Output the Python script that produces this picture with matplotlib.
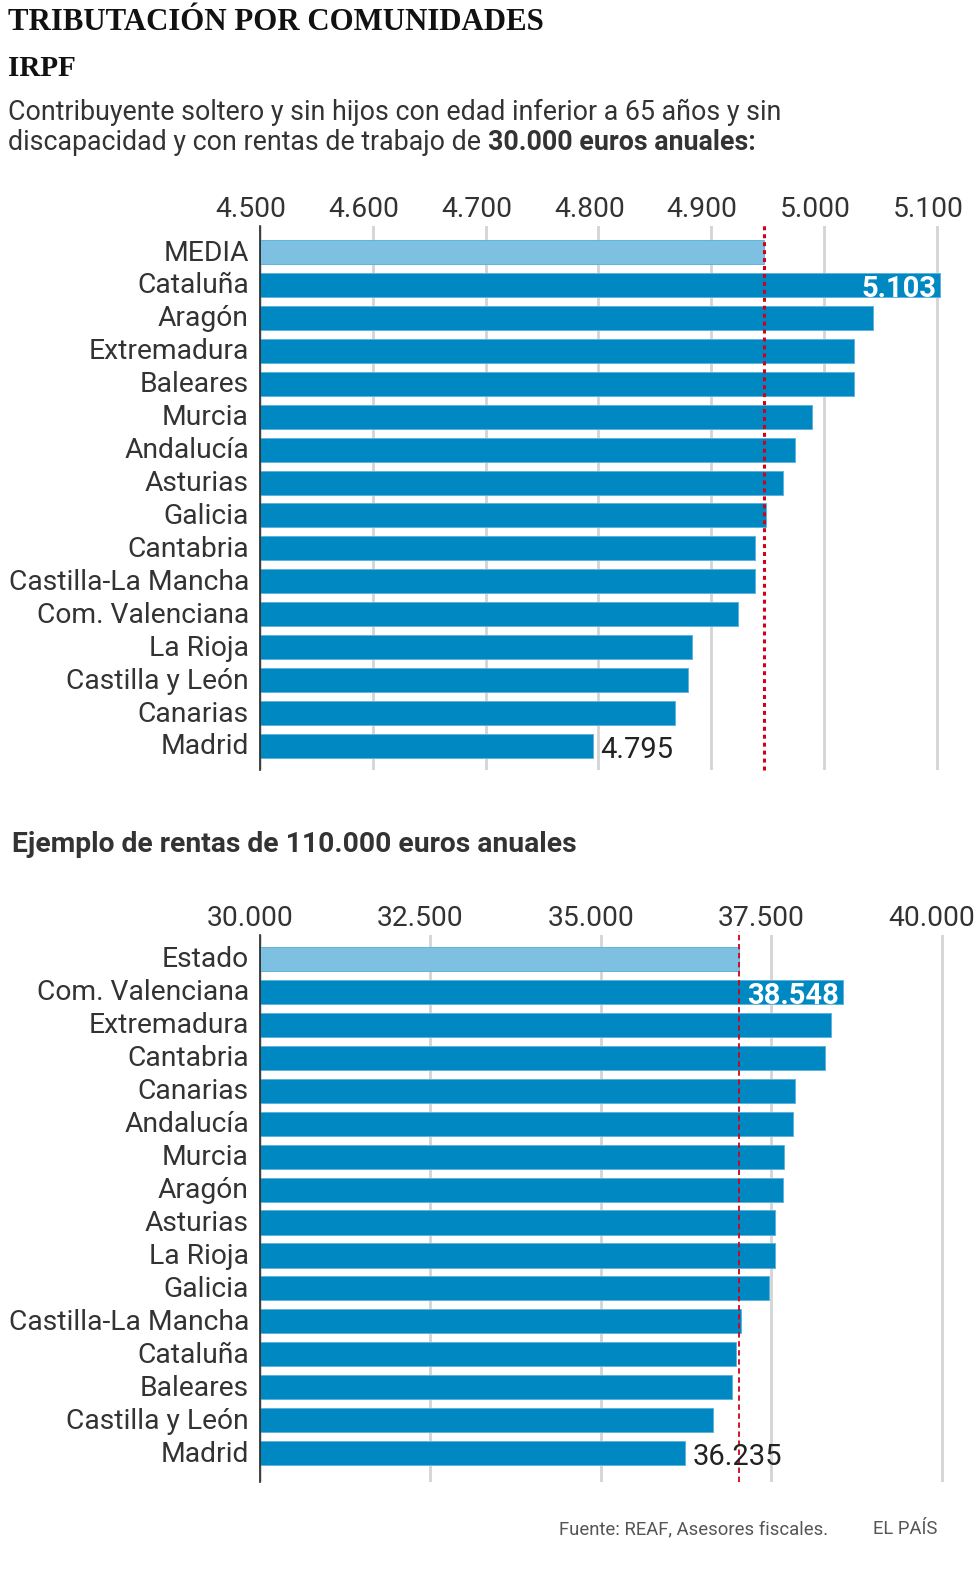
import matplotlib
matplotlib.use("Agg")
import matplotlib.pyplot as plt
from matplotlib.transforms import ScaledTranslation

# ---------------- data ----------------
regions_30k = ["MEDIA", "Cataluña", "Aragón", "Extremadura", "Baleares", "Murcia",
               "Andalucía", "Asturias", "Galicia", "Cantabria", "Castilla-La Mancha",
               "Com. Valenciana", "La Rioja", "Castilla y León", "Canarias", "Madrid"]
values_30k = [4947, 5103, 5043, 5027, 5027, 4989, 4974, 4964, 4949, 4939, 4939,
              4924, 4883, 4879, 4868, 4795]
ticks_30k = [4500, 4600, 4700, 4800, 4900, 5000, 5100]
ticklabels_30k = ["4.500", "4.600", "4.700", "4.800", "4.900", "5.000", "5.100"]

regions_110k = ["Estado", "Com. Valenciana", "Extremadura", "Cantabria", "Canarias",
                "Andalucía", "Murcia", "Aragón", "Asturias", "La Rioja", "Galicia",
                "Castilla-La Mancha", "Cataluña", "Baleares", "Castilla y León", "Madrid"]
values_110k = [37027, 38548, 38371, 38283, 37843, 37818, 37687, 37662, 37555, 37555,
               37462, 37047, 36974, 36915, 36646, 36235]
ticks_110k = [30000, 32500, 35000, 37500, 40000]
ticklabels_110k = ["30.000", "32.500", "35.000", "37.500", "40.000"]

# ---------------- style ----------------
W, H = 980, 1570
DARK = "#0088c2"
LIGHT = "#7dc0e1"
EDGE = "#5fb3dc"
TXT = "#333333"
GRID = "#d4d4d4"
RED = "#d0021b"
SANS = ["Roboto", "DejaVu Sans"]
SERIF = ["Liberation Serif", "DejaVu Serif"]
LABEL_W = "normal"

fig = plt.figure(figsize=(W / 100, H / 100), dpi=100)
fig.patch.set_facecolor("white")


def fx(px):
    return px / W


def fy(py):
    return 1 - py / H


def make_axes(left, right, top, bottom):
    return fig.add_axes([fx(left), fy(bottom), fx(right - left), (bottom - top) / H])


def draw_chart(ax, cats, vals, xmin, xmax, ticks, labels, row_top, row_bot,
               mean_style, label_shift, inside_label, outside_label):
    n = len(cats)
    ypos = list(range(n))
    colors = [LIGHT] + [DARK] * (n - 1)
    ax.barh(ypos, [v - xmin for v in vals], left=xmin, height=0.73,
            color=colors, edgecolor=EDGE, linewidth=0.7, zorder=3)
    ax.set_xlim(xmin, xmax)
    ax.set_ylim(row_bot, row_top)
    ax.set_xticks(ticks)
    ax.set_xticklabels(labels)
    ax.xaxis.tick_top()
    ax.tick_params(axis="x", length=0, pad=2, labelsize=20.3, labelcolor=TXT)
    for lab in ax.get_xticklabels():
        lab.set_fontfamily(SANS)
        lab.set_fontweight(LABEL_W)
        lab.set_transform(lab.get_transform() + ScaledTranslation(label_shift / 100, 0, fig.dpi_scale_trans))
    ax.set_yticks(ypos)
    ax.set_yticklabels(cats)
    ax.tick_params(axis="y", length=0, pad=8, labelsize=20.3, labelcolor=TXT)
    for lab in ax.get_yticklabels():
        lab.set_fontfamily(SANS)
        lab.set_fontweight(LABEL_W)
        lab.set_transform(lab.get_transform() + ScaledTranslation(0, 2 / 100, fig.dpi_scale_trans))
    ax.grid(axis="x", color=GRID, linewidth=2, zorder=0)
    ax.grid(axis="y", visible=False)
    for s in ["top", "right", "bottom"]:
        ax.spines[s].set_visible(False)
    ax.spines["left"].set_color("#222222")
    ax.spines["left"].set_linewidth(1.2)
    ax.spines["left"].set_zorder(5)
    ax.set_facecolor("white")
    # mean line
    ls, lw = mean_style
    ax.plot([vals[0], vals[0]], [row_bot, row_top - 0.12], color=RED, linestyle=ls,
            linewidth=lw, zorder=6, clip_on=False)
    # labels of max / min
    ax.text(vals[1], 1, inside_label, ha="right", va="center_baseline", color="white",
            fontsize=21, fontweight="bold", family=SANS, zorder=7,
            transform=ax.transData + ScaledTranslation(-4 / 100, -1 / 100, fig.dpi_scale_trans))
    ax.text(vals[-1], n - 1, outside_label, ha="left", va="center_baseline", color="#222222",
            fontsize=21, fontweight=LABEL_W, family=SANS, zorder=7,
            transform=ax.transData + ScaledTranslation(7 / 100, -1 / 100, fig.dpi_scale_trans))


# ---- top chart (30.000 euros) ----
ax1 = make_axes(260, 960, 226, 770)
draw_chart(ax1, regions_30k, values_30k, 4500, 4500 + 700 / 1.128, ticks_30k, ticklabels_30k,
           -0.79, 15.73, ((0, (1.3, 1.3)), 2.2), -9, "5.103", "4.795")

# ---- bottom chart (110.000 euros) ----
ax2 = make_axes(260, 960, 935, 1482)
draw_chart(ax2, regions_110k, values_110k, 30000, 30000 + 700 / 0.0682, ticks_110k, ticklabels_110k,
           -0.72, 15.87, ((0, (3, 2)), 1.3), -10, "38.548", "36.235")

# ---------------- texts ----------------
fig.text(fx(8), fy(22), "TRIBUTACIÓN POR COMUNIDADES", family=SERIF, fontweight="bold",
         fontsize=22.2, color="#111111", ha="left", va="center")
fig.text(fx(8), fy(68), "IRPF", family=SERIF, fontweight="bold",
         fontsize=21, color="#111111", ha="left", va="center")
fig.text(fx(8), fy(112), "Contribuyente soltero y sin hijos con edad inferior a 65 años y sin",
         family=SANS, fontweight=LABEL_W, fontsize=19.3, color=TXT, ha="left", va="center")
t1 = fig.text(fx(8), fy(143), "discapacidad y con rentas de trabajo de ",
              family=SANS, fontweight=LABEL_W, fontsize=19.3, color=TXT, ha="left", va="center")
plt.annotate("30.000 euros anuales:", xy=(1, 0), xycoords=t1, ha="left", va="bottom",
             family=SANS, fontweight="bold", fontsize=19.3, color=TXT)

fig.text(fx(12), fy(845), "Ejemplo de rentas de 110.000 euros anuales", family=SANS,
         fontweight="bold", fontsize=20.3, color=TXT, ha="left", va="center")

fig.text(fx(828), fy(1529), "Fuente: REAF, Asesores fiscales.", family=SANS, fontweight=LABEL_W,
         fontsize=13.3, color="#555555", ha="right", va="center")
fig.text(fx(937), fy(1529), "EL PAÍS", family=SANS, fontweight=LABEL_W,
         fontsize=13.3, color="#555555", ha="right", va="center")

fig.savefig("out.png", dpi=100, facecolor="white")
